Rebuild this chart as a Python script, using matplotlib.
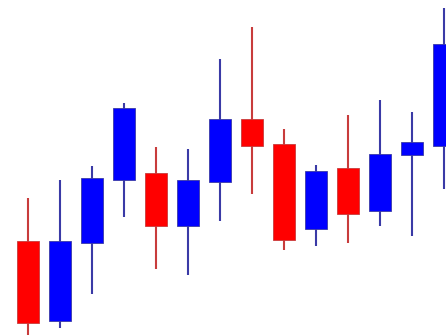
import matplotlib
matplotlib.use('Agg')
import matplotlib.pyplot as plt
from matplotlib.patches import Rectangle

# OHLC values (arbitrary price units)
opens = [95, 15, 93, 156, 163, 110, 154, 217, 192, 107, 168, 125, 181, 190]
highs = [138, 156, 170, 233, 189, 187, 277, 309, 207, 171, 221, 236, 224, 328]
lows = [1, 8, 42, 119, 67, 61, 115, 142, 86, 90, 93, 110, 100, 147]
closes = [13, 95, 158, 228, 110, 156, 217, 190, 96, 165, 122, 182, 194, 292]

UP_BODY, UP_WICK = '#0000ff', '#3a3aa6'
DOWN_BODY, DOWN_WICK = '#ff0000', '#c83c3c'
BODY_W = 0.6875


def draw_candles(ax):
    for i, (o, h, l, c) in enumerate(zip(opens, highs, lows, closes)):
        up = c >= o
        body_col = UP_BODY if up else DOWN_BODY
        wick_col = UP_WICK if up else DOWN_WICK
        ax.vlines(i, l, h, color=wick_col, linewidth=1.5, zorder=1)
        ax.add_patch(Rectangle(
            (i - BODY_W / 2, min(o, c)), BODY_W, abs(c - o),
            facecolor=body_col, edgecolor=wick_col, linewidth=0.6, zorder=2
        ))


fig = plt.figure(figsize=(4.46, 3.36), dpi=100)
ax = fig.add_axes([0, 0, 1, 1])
draw_candles(ax)
ax.set_xlim(-0.875, 13.0625)
ax.set_ylim(0, 336)
ax.axis('off')

fig.savefig('out.png', dpi=100, facecolor='white')
